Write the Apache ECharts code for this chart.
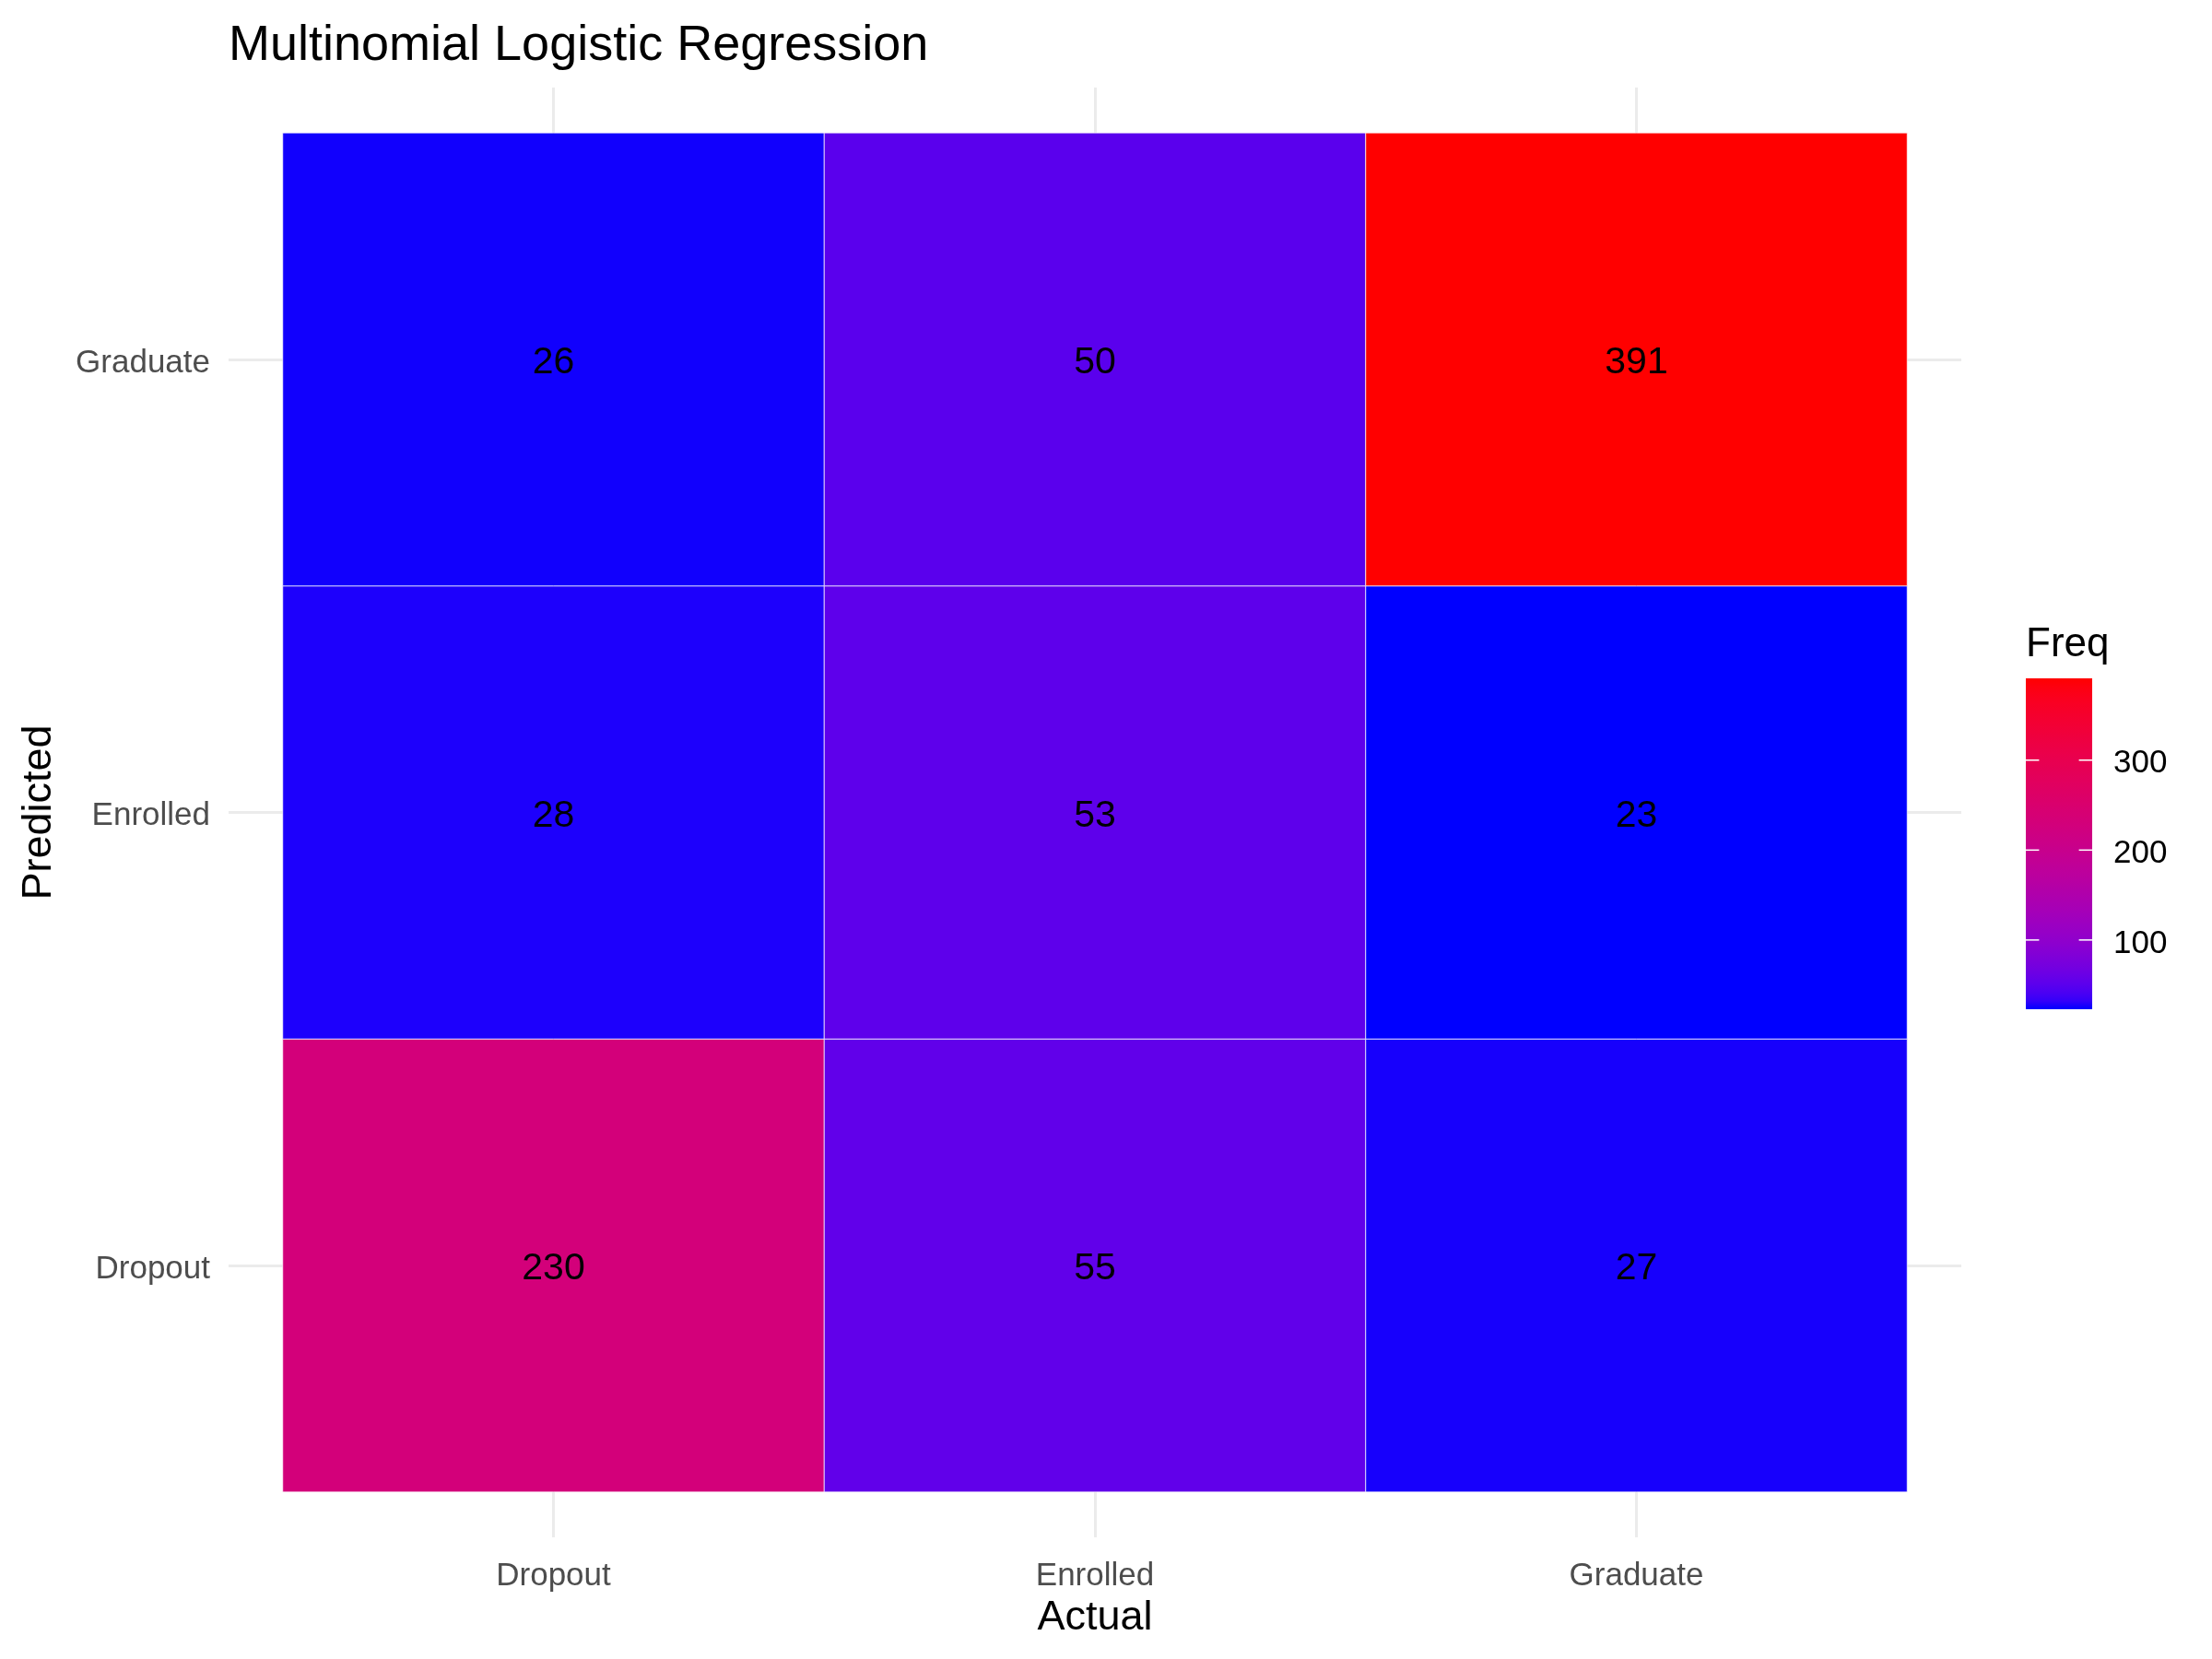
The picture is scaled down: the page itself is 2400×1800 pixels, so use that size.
<!DOCTYPE html>
<html>
<head>
<meta charset="utf-8">
<script src="https://cdn.jsdelivr.net/npm/echarts@6/dist/echarts.min.js"></script>
<style>
  html, body { margin: 0; padding: 0; background: #fff; }
  #main { width: 2400px; height: 1800px; }
</style>
</head>
<body>
<div id="main"></div>
<script>
var FONT = '"Liberation Sans", Arial, sans-serif';

// categories (x = actual, y = predicted), bottom to top for y
var actualCats = ['Dropout', 'Enrolled', 'Graduate'];
var predictedCats = ['Dropout', 'Enrolled', 'Graduate'];

// counts per predicted class, in actualCats order
var predDropout = [230, 55, 27];
var predEnrolled = [28, 53, 23];
var predGraduate = [26, 50, 391];

var legendBreaks = [100, 200, 300];
var tickPos = [1, 2, 3];

var rows = [predDropout, predEnrolled, predGraduate];
var tiles = [];
rows.forEach(function (row, yi) {
    row.forEach(function (v, xi) {
        tiles.push([xi + 1, yi + 1, v]);
    });
});
var allVals = tiles.map(function (d) { return d[2]; });
var freqMin = Math.min.apply(null, allVals);
var freqMax = Math.max.apply(null, allVals);

// ggplot-like gradient: blue -> red interpolated in CIELAB
function toLin(c) { c /= 255; return c <= 0.04045 ? c / 12.92 : Math.pow((c + 0.055) / 1.055, 2.4); }
function fromLin(c) {
    c = c <= 0.0031308 ? 12.92 * c : 1.055 * Math.pow(c, 1 / 2.4) - 0.055;
    return Math.max(0, Math.min(255, Math.round(c * 255)));
}
function rgb2lab(rgb) {
    var r = toLin(rgb[0]), g = toLin(rgb[1]), b = toLin(rgb[2]);
    var x = (0.4124 * r + 0.3576 * g + 0.1805 * b) / 0.95047;
    var y = (0.2126 * r + 0.7152 * g + 0.0722 * b);
    var z = (0.0193 * r + 0.1192 * g + 0.9505 * b) / 1.08883;
    function f(t) { return t > 0.008856 ? Math.cbrt(t) : 7.787 * t + 16 / 116; }
    var fx = f(x), fy = f(y), fz = f(z);
    return [116 * fy - 16, 500 * (fx - fy), 200 * (fy - fz)];
}
function lab2rgb(lab) {
    var fy = (lab[0] + 16) / 116, fx = fy + lab[1] / 500, fz = fy - lab[2] / 200;
    function fi(t) { return t * t * t > 0.008856 ? t * t * t : (t - 16 / 116) / 7.787; }
    var x = fi(fx) * 0.95047, y = fi(fy), z = fi(fz) * 1.08883;
    var r = 3.2406 * x - 1.5372 * y - 0.4986 * z;
    var g = -0.9689 * x + 1.8758 * y + 0.0415 * z;
    var b = 0.0557 * x - 0.2040 * y + 1.0570 * z;
    return 'rgb(' + fromLin(r) + ',' + fromLin(g) + ',' + fromLin(b) + ')';
}
var labLow = rgb2lab([0, 0, 255]), labHigh = rgb2lab([255, 0, 0]);
var N = 40;
var rampColors = [];
for (var i = 0; i <= N; i++) {
    var t = i / N;
    rampColors.push(lab2rgb([
        labLow[0] + (labHigh[0] - labLow[0]) * t,
        labLow[1] + (labHigh[1] - labLow[1]) * t,
        labLow[2] + (labHigh[2] - labLow[2]) * t
    ]));
}

var chart = echarts.init(document.getElementById('main'));

chart.setOption({
    backgroundColor: '#fff',
    animation: false,
    title: [{
        text: 'Multinomial Logistic Regression',
        left: 248, top: 23, padding: 0,
        textStyle: { fontFamily: FONT, fontSize: 54, fontWeight: 'normal', color: '#000' }
    }, {
        text: 'Freq',
        left: 2198, top: 678, padding: 0,
        textStyle: { fontFamily: FONT, fontSize: 44, fontWeight: 'normal', color: '#000' }
    }],
    visualMap: {
        show: false,
        type: 'continuous',
        seriesIndex: 0,
        dimension: 2,
        min: freqMin,
        max: freqMax,
        inRange: { color: rampColors }
    },
    grid: [
        { left: 248, right: 272, top: 95, bottom: 132 },
        { left: 2198, width: 72, top: 736, height: 359 }
    ],
    xAxis: [{
        type: 'value', gridIndex: 0, min: 0.4, max: 3.6,
        name: 'Actual', nameLocation: 'middle', nameGap: 65,
        nameTextStyle: { fontFamily: FONT, fontSize: 45, color: '#000' },
        axisLine: { show: false },
        axisTick: { show: false, customValues: tickPos },
        axisLabel: {
            customValues: tickPos, margin: 25,
            fontFamily: FONT, fontSize: 35, color: '#4D4D4D',
            formatter: function (v) { return actualCats[Math.round(v) - 1]; }
        },
        splitLine: { show: true, lineStyle: { color: '#EBEBEB', width: 3 } }
    }, {
        type: 'value', gridIndex: 1, min: 0, max: 1, show: false
    }],
    yAxis: [{
        type: 'value', gridIndex: 0, min: 0.4, max: 3.6,
        name: 'Predicted', nameLocation: 'middle', nameGap: 183, nameRotate: 90,
        nameTextStyle: { fontFamily: FONT, fontSize: 45, color: '#000' },
        axisLine: { show: false },
        axisTick: { show: false, customValues: tickPos },
        axisLabel: {
            customValues: tickPos, margin: 20,
            fontFamily: FONT, fontSize: 35, color: '#4D4D4D',
            formatter: function (v) { return '{a|' + predictedCats[Math.round(v) - 1] + '}'; },
            rich: { a: { fontFamily: FONT, fontSize: 35, color: '#4D4D4D', padding: [8, 0, 0, 0] } }
        },
        splitLine: { show: true, lineStyle: { color: '#EBEBEB', width: 3 } }
    }, {
        type: 'value', gridIndex: 1, min: freqMin, max: freqMax, position: 'right',
        axisLine: { show: false },
        axisTick: { show: false, customValues: legendBreaks },
        splitLine: { show: false },
        axisLabel: {
            customValues: legendBreaks, margin: 23,
            fontFamily: FONT, fontSize: 35, color: '#000',
            formatter: function (v) { return '{a|' + v + '}'; },
            rich: { a: { fontFamily: FONT, fontSize: 35, color: '#000', padding: [8, 0, 0, 0] } }
        }
    }],
    series: [{
        type: 'custom',
        xAxisIndex: 0, yAxisIndex: 0,
        encode: { x: 0, y: 1 },
        data: tiles,
        renderItem: function (params, api) {
            var x = api.value(0), y = api.value(1);
            var p0 = api.coord([x - 0.5, y + 0.5]);
            var p1 = api.coord([x + 0.5, y - 0.5]);
            return {
                type: 'rect',
                shape: { x: p0[0], y: p0[1], width: p1[0] - p0[0], height: p1[1] - p0[1] },
                style: { fill: api.visual('color'), stroke: 'rgba(255,255,255,0.7)', lineWidth: 1 },
                textContent: {
                    style: { text: String(api.value(2)), fontFamily: FONT, fontSize: 41, fill: '#000' }
                },
                textConfig: { position: 'inside', offset: [0, 4] }
            };
        }
    }, {
        type: 'custom',
        xAxisIndex: 1, yAxisIndex: 1,
        encode: { x: 0, y: 1 },
        data: [[0, freqMin]],
        renderItem: function (params, api) {
            var p0 = api.coord([0, freqMax]);
            var p1 = api.coord([1, freqMin]);
            var stops = rampColors.map(function (c, i) {
                return { offset: i / N, color: c };
            });
            var children = [{
                type: 'rect',
                shape: { x: p0[0], y: p0[1], width: p1[0] - p0[0], height: p1[1] - p0[1] },
                style: { fill: new echarts.graphic.LinearGradient(0, 1, 0, 0, stops) }
            }];
            var tl = (p1[0] - p0[0]) / 5;
            legendBreaks.forEach(function (b) {
                var yy = api.coord([0, b])[1];
                children.push({ type: 'line', shape: { x1: p0[0], y1: yy, x2: p0[0] + tl, y2: yy },
                    style: { stroke: '#fff', lineWidth: 1.5 } });
                children.push({ type: 'line', shape: { x1: p1[0] - tl, y1: yy, x2: p1[0], y2: yy },
                    style: { stroke: '#fff', lineWidth: 1.5 } });
            });
            return { type: 'group', children: children };
        }
    }]
});
</script>
</body>
</html>
